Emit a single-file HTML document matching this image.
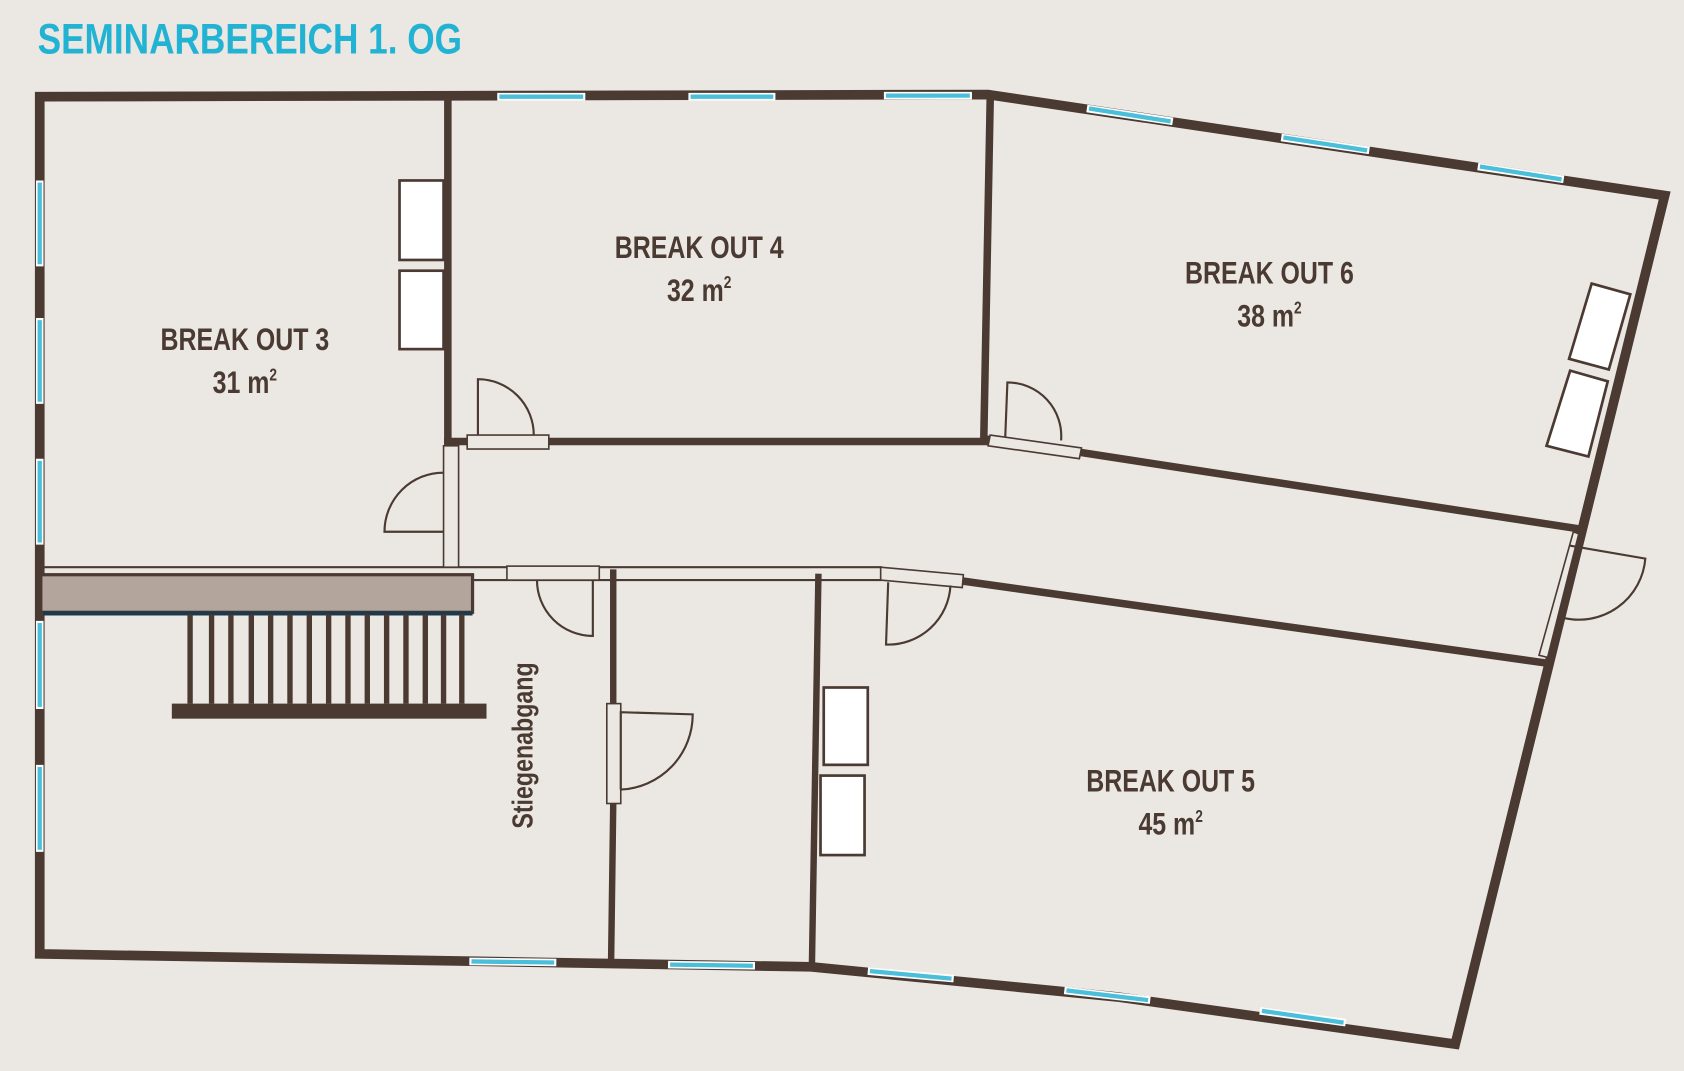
<!DOCTYPE html>
<html><head><meta charset="utf-8"><style>
html,body{margin:0;padding:0;background:#ebe8e4;}
svg{display:block;}
</style></head><body>
<svg width="1684" height="1071" viewBox="0 0 1568 997" preserveAspectRatio="none" xmlns="http://www.w3.org/2000/svg">
<rect width="1568" height="997" fill="#ebe8e4"/>
<text x="35" y="50" font-family="Liberation Sans, sans-serif" font-weight="bold" font-size="40" fill="#22b3d3" transform="translate(35 0) scale(0.82 1) translate(-35 0)">SEMINARBEREICH 1. OG</text>
<g stroke="#4a3a32" fill="none" stroke-linecap="square">
 <!-- outer -->
 <polyline stroke-width="9" points="37,888 37,90 920,88 1550,182 1355,972 1040,928 755,900 570,897 37,888"/>
 <!-- BO3 right wall -->
 <line x1="417" y1="92" x2="417" y2="410" stroke-width="7"/>
 <!-- BO4 bottom -->
 <line x1="417" y1="411" x2="435" y2="411" stroke-width="7"/>
 <line x1="511" y1="411" x2="918" y2="411" stroke-width="7"/>
 <line x1="922" y1="92" x2="916" y2="410" stroke-width="7"/>
 <!-- BO6 bottom -->
 <line x1="1005" y1="421" x2="1468" y2="492" stroke-width="7"/>
 <line x1="918" y1="409" x2="922" y2="409" stroke-width="7"/>
 <!-- corridor lower -->
 <line x1="897" y1="541" x2="1438" y2="617" stroke-width="7"/>
 <line x1="571" y1="533" x2="571" y2="655" stroke-width="6"/>
 <line x1="571" y1="748" x2="569" y2="895" stroke-width="6"/>
 <line x1="762" y1="537" x2="756" y2="898" stroke-width="6"/>
 <!-- thin corridor double line -->
 <line x1="40" y1="528" x2="820" y2="528" stroke-width="2"/>
 <line x1="40" y1="540" x2="820" y2="540" stroke-width="2"/>
</g>
<!-- windows -->
<g stroke="#fff" stroke-width="7" fill="none">
 <line x1="463" y1="90" x2="545" y2="90"/><line x1="641" y1="90" x2="722" y2="90"/><line x1="823" y1="89" x2="905" y2="89"/>
 <line x1="1012" y1="101" x2="1092" y2="113"/><line x1="1193" y1="128" x2="1275" y2="140"/><line x1="1376" y1="155" x2="1456" y2="167"/>
 <line x1="37" y1="168" x2="37" y2="248"/><line x1="37" y1="296" x2="37" y2="376"/><line x1="37" y1="427" x2="37" y2="507"/><line x1="37" y1="578" x2="37" y2="660"/><line x1="37" y1="712" x2="37" y2="793"/>
 <line x1="437" y1="895" x2="518" y2="896"/><line x1="622" y1="898" x2="703" y2="899"/><line x1="808" y1="904" x2="888" y2="911"/><line x1="991" y1="922" x2="1071" y2="931"/><line x1="1173" y1="941" x2="1253" y2="952"/>
</g>
<g stroke="#4bbfd9" stroke-width="4" fill="none">
 <line x1="465" y1="90" x2="543" y2="90"/><line x1="643" y1="90" x2="720" y2="90"/><line x1="825" y1="89" x2="903" y2="89"/>
 <line x1="1014" y1="101" x2="1090" y2="113"/><line x1="1195" y1="128" x2="1273" y2="140"/><line x1="1378" y1="155" x2="1454" y2="167"/>
 <line x1="37" y1="170" x2="37" y2="246"/><line x1="37" y1="298" x2="37" y2="374"/><line x1="37" y1="429" x2="37" y2="505"/><line x1="37" y1="580" x2="37" y2="658"/><line x1="37" y1="714" x2="37" y2="791"/>
 <line x1="439" y1="895" x2="516" y2="896"/><line x1="624" y1="898" x2="701" y2="899"/><line x1="810" y1="904" x2="886" y2="911"/><line x1="993" y1="922" x2="1069" y2="931"/><line x1="1175" y1="941" x2="1251" y2="952"/>
</g>
<!-- door frames -->
<g fill="#ebe8e4" stroke="#4a3a32" stroke-width="1.5">
 <rect x="413" y="415" width="14" height="113"/>
 <rect x="435" y="405" width="76" height="13"/>
 <polygon points="922,405 1007,417 1005,427 920,415"/>
 <rect x="472" y="527" width="86" height="13"/>
 <polygon points="820,528 897,535 896,547 820,540"/>
 <rect x="565" y="655" width="13" height="93"/>
 <polygon points="1465,495 1470,497 1441,612 1433,610"/>
</g>
<!-- doors -->
<g fill="none" stroke="#4a3a32" stroke-width="2">
 <path d="M445,405 L445,353 A52,52 0 0 1 497,405"/>
 <path d="M413,495 L358,495 A55,55 0 0 1 413,440"/>
 <path d="M936,407 L938,356 A50,50 0 0 1 988,410"/>
 <path d="M552,540 L552,592 A52,52 0 0 1 500,540"/>
 <path d="M827,542 L825,600 A58,58 0 0 0 885,545"/>
 <path d="M578,735 L578,663 L645,665 A70,70 0 0 1 578,735"/>
 <path d="M1462,508 L1532,520 A62,62 0 0 1 1455,575"/>
</g>
<!-- stairs -->
<rect x="38" y="535" width="402" height="35" fill="#b3a59c" stroke="#4a3a32" stroke-width="3"/>
<line x1="40" y1="571" x2="440" y2="571" stroke="#1e3a4a" stroke-width="4"/>
<g stroke="#4a3a32" stroke-width="5">
 <line x1="177" y1="572" x2="177" y2="655"/><line x1="197" y1="572" x2="197" y2="655"/><line x1="215" y1="572" x2="215" y2="655"/><line x1="234" y1="572" x2="234" y2="655"/><line x1="252" y1="572" x2="252" y2="655"/><line x1="270" y1="572" x2="270" y2="655"/><line x1="288" y1="572" x2="288" y2="655"/><line x1="306" y1="572" x2="306" y2="655"/><line x1="324" y1="572" x2="324" y2="655"/><line x1="342" y1="572" x2="342" y2="655"/><line x1="360" y1="572" x2="360" y2="655"/><line x1="378" y1="572" x2="378" y2="655"/><line x1="396" y1="572" x2="396" y2="655"/><line x1="413" y1="572" x2="413" y2="655"/><line x1="430" y1="572" x2="430" y2="655"/>
</g>
<rect x="160" y="655" width="293" height="14" fill="#4a3a32"/>
<!-- tables -->
<g fill="#fff" stroke="#4a3a32" stroke-width="2.5">
 <rect x="372" y="168" width="41" height="74"/>
 <rect x="372" y="252" width="41" height="73"/>
 <rect x="767" y="640" width="41" height="72"/>
 <rect x="764" y="722" width="41" height="74"/>
 <polygon points="1482,264 1518,274 1498,344 1461,334"/>
 <polygon points="1462,345 1497,355 1479,425 1440,415"/>
</g>
<g font-family="Liberation Sans, sans-serif" font-weight="bold" fill="#4a3a32" font-size="29" text-anchor="middle">
 <text transform="translate(228 326) scale(0.8 1)">BREAK OUT 3</text>
 <text transform="translate(228 366) scale(0.8 1)">31 m<tspan font-size="16" dy="-12">2</tspan></text>
 <text transform="translate(651 240) scale(0.8 1)">BREAK OUT 4</text>
 <text transform="translate(651 280) scale(0.8 1)">32 m<tspan font-size="16" dy="-12">2</tspan></text>
 <text transform="translate(1182 264) scale(0.8 1)">BREAK OUT 6</text>
 <text transform="translate(1182 304) scale(0.8 1)">38 m<tspan font-size="16" dy="-12">2</tspan></text>
 <text transform="translate(1090 737) scale(0.8 1)">BREAK OUT 5</text>
 <text transform="translate(1090 777) scale(0.8 1)">45 m<tspan font-size="16" dy="-12">2</tspan></text>
 <text transform="translate(496 694) rotate(-90) scale(0.8 1)" font-size="27">Stiegenabgang</text>
</g>
</svg>
</body></html>
